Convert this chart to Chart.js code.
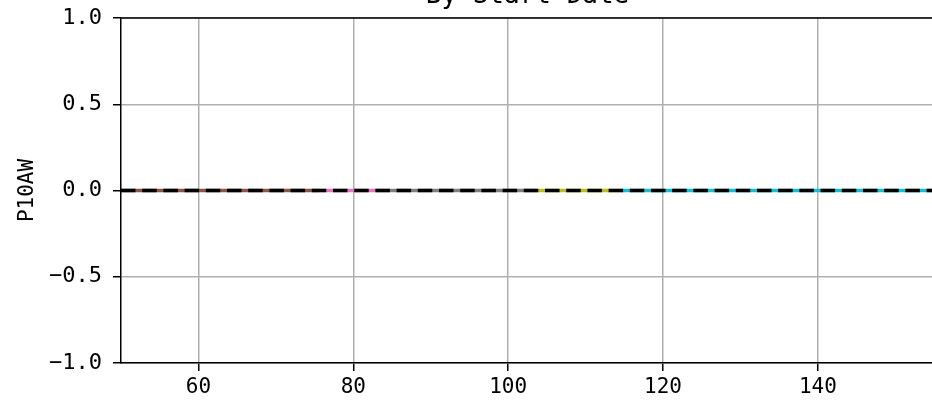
<!DOCTYPE html>
<html>
<head>
<meta charset="utf-8">
<script src="https://cdn.jsdelivr.net/npm/chart.js@4/dist/chart.umd.min.js"></script>
<style>
  html, body { margin: 0; padding: 0; background: #fff; overflow: hidden; width: 932px; height: 406px; }
  #wrap { position: absolute; left: 0; top: -19px; width: 950px; height: 425px; }
</style>
</head>
<body>
<div id="wrap"><canvas id="c" width="950" height="425"></canvas></div>
<script>
// ---- data ----
const titleText = 'By Start Date';
const yLabel = 'P10AW';
const xTicks = [60, 80, 100, 120, 140];
const yTicks = [-1.0, -0.5, 0.0, 0.5, 1.0];
const xRange = [50, 155];
const groupStart = [50, 75.5, 83, 103.5, 114.5];
const groupEnd   = [75.5, 83, 103.5, 114.5, 155];
const groupValue = [0, 0, 0, 0, 0];
const overallX = [50, 155];
const overallY = [0, 0];

// ---- styles ----
const groupColors = ['#8c564b', '#e377c2', '#7f7f7f', '#bcbd22', '#17becf'];
const FONT = "'DejaVu Sans Mono', 'Liberation Mono', monospace";

const datasets = [];
datasets.push({
  data: overallX.map((x, i) => ({x, y: overallY[i]})),
  borderColor: '#000', borderWidth: 3.6, borderDash: [14.5, 6.7],
  pointRadius: 0, order: 0, fill: false, tension: 0
});
groupStart.forEach((s, i) => {
  datasets.push({
    data: [{x: s, y: groupValue[i]}, {x: groupEnd[i], y: groupValue[i]}],
    borderColor: groupColors[i], borderWidth: 3.6,
    pointRadius: 0, order: 1, fill: false, tension: 0
  });
});

const topSpine = {
  id: 'topSpine',
  afterDraw(chart) {
    const {ctx, chartArea: a} = chart;
    ctx.save();
    ctx.strokeStyle = '#000'; ctx.lineWidth = 1.5;
    ctx.beginPath(); ctx.moveTo(a.left, a.top); ctx.lineTo(a.right, a.top); ctx.stroke();
    ctx.beginPath(); ctx.moveTo(a.right, a.top); ctx.lineTo(a.right, a.bottom); ctx.stroke();
    ctx.restore();
  }
};

new Chart(document.getElementById('c'), {
  type: 'line',
  data: { datasets },
  plugins: [topSpine],
  options: {
    responsive: false, animation: false, devicePixelRatio: 1,
    layout: { padding: { left: 0, right: 16, top: 0, bottom: 0 } },
    plugins: {
      legend: { display: false }, tooltip: { enabled: false },
      title: { display: true, text: titleText, color: '#000', fullSize: false,
               font: { family: FONT, size: 26, weight: 'normal' },
               padding: { top: 0, bottom: 5.8 } }
    },
    scales: {
      x: {
        type: 'linear', min: xRange[0], max: xRange[1],
        afterBuildTicks: s => { s.ticks = xTicks.map(v => ({value: v})); },
        afterFit: s => { s.height = 43; },
        ticks: { color: '#000', font: { family: FONT, size: 21 }, padding: 4, maxRotation: 0,
                 callback: v => String(v) },
        grid: { color: '#b0b0b0', lineWidth: 1.5, tickColor: '#000', tickWidth: 1.5, tickLength: 8 },
        border: { color: '#000', width: 1.5 }
      },
      y: {
        type: 'linear', min: -1, max: 1,
        afterBuildTicks: s => { s.ticks = yTicks.map(v => ({value: v})); },
        afterFit: s => { s.width = 121; },
        ticks: { color: '#000', font: { family: FONT, size: 22 }, padding: 11,
                 callback: v => (v < 0 ? '\u2212' : '') + Math.abs(v).toFixed(1) },
        grid: { color: '#b0b0b0', lineWidth: 1.5, tickColor: '#000', tickWidth: 1.5, tickLength: 8 },
        border: { color: '#000', width: 1.5 },
        title: { display: true, text: yLabel, color: '#000',
                 font: { family: FONT, size: 21 }, padding: { top: 15, bottom: 0 } }
      }
    }
  }
});
</script>
</body>
</html>
